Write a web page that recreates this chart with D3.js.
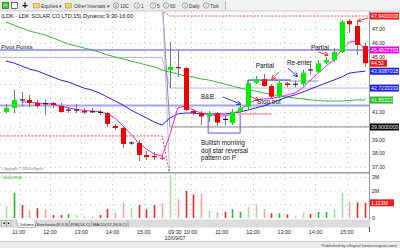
<!DOCTYPE html>
<meta charset="utf-8">
<head>
  <title>LDK 15 min</title>
  <script src="https://d3js.org/d3.v7.min.js"></script>
</head>
<style>
body { margin: 0; background: #fff; }
svg { display: block; font-family: "Liberation Sans", Arial, sans-serif; }
</style>
<body>
<svg></svg>
<script>

// bar times, 15 min bars, two sessions
let day1Times = ["10:45","11:00","11:15","11:30","11:45","12:00","12:15","12:30","12:45","13:00","13:15","13:30","13:45","14:00","14:15","14:30","14:45","15:00","15:15","15:30","15:45"];
let day2Times = ["09:30","09:45","10:00","10:15","10:30","10:45","11:00","11:15","11:30","11:45","12:00","12:15","12:30","12:45","13:00","13:15","13:30","13:45","14:00","14:15","14:30","14:45","15:00","15:15","15:30","15:45"];
let times = day1Times.map(t => "10/08/07 " + t).concat(day2Times.map(t => "10/09/07 " + t));

let tickTimes = ["10/08/07 11:00","10/08/07 12:00","10/08/07 13:00","10/08/07 14:00","10/08/07 15:00",
                 "10/09/07 09:30","10/09/07 10:00","10/09/07 11:00","10/09/07 12:00","10/09/07 13:00","10/09/07 14:00","10/09/07 15:00"];
let priceTicks = [37, 38, 39, 40, 41, 42, 43, 44, 45, 46, 47];
let volTicks = [0, 1, 2, 3];

// OHLC
let openP  = [40.99,41.28,41.88,41.86,41.64,41.57,41.64,41.42,41.13,41.12,41.06,41.00,40.95,40.91,39.97,39.83,38.74,38.74,37.87,37.80,37.68,
              44.03,44.25,44.17,41.06,40.91,40.66,40.91,40.44,40.17,41.01,41.37,43.11,43.36,42.87,42.09,43.06,42.99,43.01,44.02,43.91,44.56,44.75,45.33,47.58,47.22,45.77];
let highP  = [41.57,42.58,42.43,42.22,41.86,41.86,41.71,41.64,41.35,41.57,41.28,41.28,41.13,40.99,40.12,39.90,38.88,38.96,38.16,38.09,37.80,
              46.06,45.48,44.25,41.20,41.06,41.06,40.99,40.77,41.20,41.42,43.18,43.60,43.74,43.01,43.23,43.16,43.25,44.03,44.46,44.75,44.97,45.62,47.65,47.72,47.53,45.99];
let lowP   = [40.91,40.91,41.35,41.35,41.28,40.77,41.28,40.95,40.91,40.91,40.84,40.91,40.77,39.90,39.68,38.38,38.60,37.43,37.51,37.51,37.51,
              42.72,43.52,41.06,40.77,40.04,40.26,39.97,40.04,40.04,40.91,41.20,43.01,42.80,42.00,42.00,42.80,42.78,42.87,43.67,43.81,44.46,44.61,45.26,46.71,45.12,44.27];
let closeP = [41.28,41.86,41.86,41.64,41.42,41.58,41.49,40.99,41.12,41.13,40.95,41.00,40.96,40.12,39.83,38.67,38.74,37.87,37.72,37.70,37.62,
              44.25,44.15,41.13,40.90,40.66,40.88,40.22,40.45,41.01,41.30,43.06,43.36,42.87,42.09,43.11,42.94,43.00,43.83,44.03,44.51,44.75,45.33,47.53,47.34,45.84,44.52];

// moving averages
let maFast = [null,null,41.71,41.71,41.64,41.60,41.57,41.42,41.28,41.17,41.10,41.06,41.02,40.84,40.55,39.97,39.39,38.74,38.30,37.94,37.80,
              39.32,41.28,41.42,41.13,40.91,40.84,40.70,40.70,40.84,41.13,41.57,41.86,41.93,41.96,42.07,42.22,42.36,42.72,43.30,43.81,44.32,44.75,45.48,46.06,46.13,45.50];
let maMid  = [44.68,44.54,44.32,44.10,43.96,43.74,43.52,43.30,43.16,42.94,42.72,42.58,42.36,42.07,41.78,41.49,41.13,40.84,40.55,40.26,40.04,
              40.55,40.84,40.91,40.91,40.84,40.84,40.84,40.84,40.91,40.99,41.13,41.28,41.42,41.64,41.86,42.07,42.22,42.43,42.65,42.87,43.09,43.30,43.52,43.81,43.88,43.94];
let maSlow = [47.51,47.29,47.07,46.86,46.71,46.57,46.35,46.13,45.91,45.77,45.62,45.48,45.33,45.12,44.97,44.83,44.68,44.54,44.39,44.25,44.03,
              43.88,43.74,43.59,43.52,43.38,43.30,43.16,43.01,42.87,42.72,42.58,42.51,42.36,42.29,42.14,42.07,42.00,41.93,41.86,41.82,41.78,41.78,41.78,41.82,41.86,41.85];

// volume in millions, colour code per bar
let volume = [0.88,1.85,0.95,0.59,0.71,0.64,0.22,0.22,0.29,0.22,0.10,0.10,0.22,0.66,0.39,1.12,0.71,0.95,0.64,0.95,1.08,
              3.15,1.37,1.98,1.73,1.81,0.51,0.44,0.46,0.64,0.46,0.83,1.02,0.64,0.34,0.34,0.27,0.17,0.39,0.29,0.44,0.44,0.66,1.85,1.19,1.15,1.113];
let volKind = ["LG","G","R","P","R","P","R","R","G","LG","P","P","R","R","P","P","LG","R","R","R","P",
               "LG","P","R","R","P","LG","P","R","G","G","LG","LG","P","R","G","R","LG","LG","R","G","G","LG","LG","P","R","R"];

// prior day high / low lines and pivot levels, [day1, day2]
let dayHigh = [48.34, 47.94];
let dayLow = [39.25, 36.40];
let pivots = [
  {lv: [45.48, 45.48], color: "#a3a3f0", w: 2},
  {lv: [41.46, 41.46], color: "#a3a3f0", w: 2},
  {lv: [44.93, 42.72], color: "#b8b8ee", w: 1},
  {lv: [49.30, 39.90], color: "#8a8a8a", w: 1},
  {lv: [49.60, 36.20], color: "#b8b8ee", w: 1}
];

// right side value flags
let flags = [
  {v: 47.94, text: "47.9400000", color: "#ee1c1c", w: 29},
  {v: 45.48, text: "45.4827703", color: "#ee00ee", w: 29},
  {v: 44.52, text: "44.52", color: "#ee1c1c", w: 17},
  {v: 43.94, text: "43.9387018", color: "#1c1ce8", w: 29},
  {v: 42.72, text: "42.7233333", color: "#1c1ce8", w: 29},
  {v: 41.85, text: "41.85322", color: "#22bb22", w: 23},
  {v: 39.90, text: "39.9000000", color: "#000", w: 29}
];

// chart notes, anchored by bar index and price
let notes = [
  {t: "B&B", i: 25, p: 41.96},
  {t: "Partial", i: 32, p: 44.17},
  {t: "Re-enter", i: 36, p: 44.39},
  {t: "Stop out", i: 32.15, p: 41.57},
  {t: "Partial", i: 39.06, p: 45.48},
  {t: "Bullish morning", i: 25, p: 38.56},
  {t: "doji star reversal", i: 25, p: 38.02},
  {t: "pattern on P", i: 25, p: 37.48}
];
let arrows = [
  {from: [27.8, 42.07], to: [30, 41.57], color: "#2b2bdd"},
  {from: [36.1, 44.17], to: [37.3, 43.59], color: "#2b2bdd"},
  {from: [35, 43.88], to: [34.1, 43.38], color: "#ee2222"},
  {from: [31.2, 42.14], to: [32.3, 41.86], color: "#ee2222"},
  {from: [40, 45.33], to: [41.2, 45.12], color: "#ee2222"},
  {from: [46.4, 47.80], to: [45.1, 47.58], color: "#ee2222"}
];

let svg = d3.select("svg").attr("width", 400).attr("height", 248);

let x = d3.scaleBand().domain(times).range([2, 369]);
let cx = t => x(t) + x.bandwidth() / 2;
let xi = d3.scaleLinear().domain([0, times.length - 1]).range([cx(times[0]), cx(times[times.length - 1])]);
let y = d3.scaleLinear().domain([37, 47]).range([167, 29]);
let yv = d3.scaleLinear().domain([0, 3]).range([218, 177]);

svg.append("rect").attr("width", 400).attr("height", 248).attr("fill", "#fff");

let defs = svg.append("defs");
defs.append("clipPath").attr("id", "pricePane")
  .append("rect").attr("x", 0).attr("y", 11.5).attr("width", 369).attr("height", 160.5);
["#2b2bdd", "#ee2222"].forEach((c, k) => {
  defs.append("marker").attr("id", "head" + k)
    .attr("viewBox", "0 0 10 10").attr("refX", 8).attr("refY", 5)
    .attr("markerWidth", 5).attr("markerHeight", 5).attr("orient", "auto")
    .append("path").attr("d", "M0,0L10,5L0,10").attr("fill", "none").attr("stroke", c).attr("stroke-width", 2);
});

// ---- toolbar
let tb = svg.append("g");
tb.append("rect").attr("width", 400).attr("height", 11).attr("fill", "#f3f3f3");
tb.append("rect").attr("width", 225).attr("height", 11).attr("fill", "#ececec");
tb.append("line").attr("x1", 225.5).attr("x2", 225.5).attr("y1", 1).attr("y2", 10).attr("stroke", "#b5b5b5");
tb.append("rect").attr("x", 2.5).attr("y", 2.5).attr("width", 6).attr("height", 6).attr("fill", "#4c4").attr("stroke", "#2a5a2a").attr("stroke-width", 0.7);
tb.append("rect").attr("x", 3.5).attr("y", 4.5).attr("width", 4).attr("height", 1).attr("fill", "#ee3");
tb.append("rect").attr("x", 11.5).attr("y", 2.5).attr("width", 6).attr("height", 6).attr("fill", "#fff").attr("stroke", "#335").attr("stroke-width", 0.7);
tb.append("text").attr("x", 22).attr("y", 9.3).attr("font-size", 10).attr("font-weight", "bold").text("+");
[33, 65].forEach(fx => {
  tb.append("rect").attr("x", fx + 0.5).attr("y", 3.5).attr("width", 6).attr("height", 4.5).attr("fill", "#f2d46e").attr("stroke", "#b8952e").attr("stroke-width", 0.6);
});
let tbText = [[41, "Equities"], [59, "\u25BE"], [74, "Other Intervals"], [107, "\u25BE"], [120, "10C"], [141, "1"], [157, "5"], [170, "60"], [189, "Daily"], [210, "Tick"]];
tbText.forEach(d => tb.append("text").attr("x", d[0]).attr("y", 7.6).attr("font-size", 4.8).attr("fill", "#333").text(d[1]));
[[116, "D"], [137, "I"], [153, "I"], [166, "I"], [185, "I"], [206, "I"]].forEach(d => {
  tb.append("circle").attr("cx", d[0]).attr("cy", 5.5).attr("r", 2.7).attr("fill", "#fafafa").attr("stroke", "#666").attr("stroke-width", 0.6);
  tb.append("text").attr("x", d[0]).attr("y", 6.9).attr("text-anchor", "middle").attr("font-size", 3.6).attr("fill", "#333").text(d[1]);
});
tb.append("line").attr("x1", 0).attr("x2", 400).attr("y1", 11).attr("y2", 11).attr("stroke", "#c9c9c9");

// ---- price pane
let pane = svg.append("g").attr("clip-path", "url(#pricePane)");

// dotted grid
let gx = tickTimes.map(t => cx(t) + 5);
pane.selectAll(".gy").data(priceTicks).join("line")
  .attr("x1", 0).attr("x2", 369).attr("y1", d => y(d) + 0.5).attr("y2", d => y(d) + 0.5)
  .attr("stroke", "#c4c4c4").attr("stroke-dasharray", "1,4");
pane.selectAll(".gx").data(gx).join("line")
  .attr("x1", d => Math.round(d) + 0.5).attr("x2", d => Math.round(d) + 0.5).attr("y1", 12).attr("y2", 172)
  .attr("stroke", "#c4c4c4").attr("stroke-dasharray", "1,4");

// day level lines: day 1 flat, jump at the session break, day 2 flat
let levelLine = d3.line().x(d => xi(d[0])).y(d => y(d[1]));
let levelPts = lv => [[-0.76, lv[0]], [20, lv[0]], [21, lv[1]], [46.5, lv[1]]];

pivots.forEach(pv => {
  pane.append("path").attr("d", levelLine(levelPts(pv.lv)))
    .attr("fill", "none").attr("stroke", pv.color).attr("stroke-width", pv.w);
});
[dayHigh, dayLow].forEach(lv => {
  pane.append("path").attr("d", levelLine(levelPts(lv)))
    .attr("fill", "none").attr("stroke", "#f04848").attr("stroke-width", 1).attr("stroke-dasharray", "2,1.5");
});

// trade markup lines
let markup = [
  {pts: [[31, 41.35], [31, 43.30], [36.5, 43.30]], color: "#1c1cd0", w: 1},
  {pts: [[36.3, 43.23], [40, 43.23]], color: "#aab4f0", w: 1.5},
  {pts: [[29.6, 40.84], [34, 40.84]], color: "#f07070", w: 1},
  {pts: [[25.9, 40.70], [25.9, 39.46], [30, 39.46], [30, 40.77]], color: "#5a5ae8", w: 1}
];
markup.forEach(m => {
  pane.append("path").attr("d", levelLine(m.pts))
    .attr("fill", "none").attr("stroke", m.color).attr("stroke-width", m.w);
});

// moving averages
let maLine = d3.line().defined(d => d != null).x((d, i) => xi(i)).y(d => y(d));
[[maSlow, "#3cb43c"], [maMid, "#2424e0"], [maFast, "#f020f0"]].forEach(m => {
  pane.append("path").attr("d", maLine(m[0])).attr("fill", "none").attr("stroke", m[1]).attr("stroke-width", 1);
});

// candles
let isDoji = i => Math.abs(closeP[i] - openP[i]) < 0.03;
let bars = pane.selectAll(".candle").data(times).join("g").attr("class", "candle");
bars.append("line")
  .attr("x1", d => Math.round(cx(d)) + 0.5).attr("x2", d => Math.round(cx(d)) + 0.5)
  .attr("y1", (d, i) => y(highP[i])).attr("y2", (d, i) => y(lowP[i]))
  .attr("stroke", "#777");
bars.append("rect")
  .attr("x", d => Math.round(cx(d)) - 2)
  .attr("width", 5)
  .attr("y", (d, i) => isDoji(i) ? y(closeP[i]) - 0.5 : y(Math.max(openP[i], closeP[i])))
  .attr("height", (d, i) => isDoji(i) ? 1 : Math.max(1, y(Math.min(openP[i], closeP[i])) - y(Math.max(openP[i], closeP[i]))))
  .attr("fill", (d, i) => isDoji(i) ? "#000" : (closeP[i] > openP[i] ? "#00f000" : "#f00000"));

// notes and arrows
pane.selectAll(".note").data(notes).join("text")
  .attr("x", d => xi(d.i)).attr("y", d => y(d.p))
  .attr("font-size", 6.4).attr("fill", "#111").text(d => d.t);
arrows.forEach(a => {
  pane.append("line")
    .attr("x1", xi(a.from[0])).attr("y1", y(a.from[1])).attr("x2", xi(a.to[0])).attr("y2", y(a.to[1]))
    .attr("stroke", a.color).attr("stroke-width", 0.9)
    .attr("marker-end", "url(#head" + (a.color == "#2b2bdd" ? 0 : 1) + ")");
});

svg.append("text").attr("x", 1).attr("y", 17.5).attr("font-size", 5.6).attr("fill", "#111")
  .text("(LDK - LDK SOLAR CO LTD,15) Dynamic,9:30-16:00");
svg.append("text").attr("x", 1).attr("y", 48.5).attr("font-size", 6).attr("fill", "#111").text("Pivot Points");
svg.append("text").attr("x", 2).attr("y", 170).attr("font-size", 3.6).attr("fill", "#777").text("Copyright \u00A9 2006 eSignal");

// pane separator and right edge
svg.append("rect").attr("x", 0).attr("y", 172).attr("width", 370).attr("height", 1.5).attr("fill", "#9a9a9a");
svg.append("line").attr("x1", 369.5).attr("x2", 369.5).attr("y1", 11).attr("y2", 228).attr("stroke", "#9a9a9a");

// price axis, labels under a value flag are left out as in the original
let shownTicks = priceTicks.filter(p => !flags.some(f => Math.abs(y(f.v) - y(p)) < 4.5));
let pAxis = svg.append("g").attr("transform", "translate(369,0)")
  .call(d3.axisRight(y).tickValues(shownTicks).tickFormat(d3.format(".2f")).tickSize(0).tickPadding(3));
pAxis.select(".domain").remove();
pAxis.selectAll("text").attr("font-size", 5.2).attr("fill", "#222").attr("font-family", "Liberation Sans");

let fl = svg.selectAll(".flag").data(flags).join("g").attr("class", "flag");
fl.append("rect").attr("x", 370).attr("y", d => y(d.v) - 3.5).attr("width", d => d.w).attr("height", 7).attr("fill", d => d.color);
fl.append("text").attr("x", 371).attr("y", d => y(d.v) + 1.9).attr("font-size", 5.2).attr("fill", "#fff").text(d => d.text);

// ---- volume pane
svg.selectAll(".vg").data(volTicks.slice(1)).join("line")
  .attr("x1", 0).attr("x2", 369).attr("y1", d => yv(d) + 0.5).attr("y2", d => yv(d) + 0.5)
  .attr("stroke", "#c4c4c4").attr("stroke-dasharray", "1,4");
svg.selectAll(".vgx").data(gx).join("line")
  .attr("x1", d => Math.round(d) + 0.5).attr("x2", d => Math.round(d) + 0.5).attr("y1", 174).attr("y2", 219)
  .attr("stroke", "#c4c4c4").attr("stroke-dasharray", "1,4");

let volFill = {G: "#2fb52f", LG: "#a9dba9", R: "#e62a2a", P: "#f6a3a3"};
svg.selectAll(".vol").data(times).join("rect").attr("class", "vol")
  .attr("x", d => Math.round(cx(d)) - 0.3)
  .attr("width", 1.6)
  .attr("y", (d, i) => yv(volume[i]))
  .attr("height", (d, i) => yv(0) - yv(volume[i]))
  .attr("fill", (d, i) => volFill[volKind[i]]);

svg.append("text").attr("x", 2).attr("y", 179).attr("font-size", 6).attr("fill", "#3cb43c").text("Volume");

let lastVol = volume[volume.length - 1];
let vTicksShown = volTicks.filter(v => Math.abs(yv(v) - yv(lastVol)) > 4.5);
let vAxis = svg.append("g").attr("transform", "translate(369,0)")
  .call(d3.axisRight(yv).tickValues(vTicksShown).tickFormat(d => d ? d + "M" : "0").tickSize(0).tickPadding(3));
vAxis.select(".domain").remove();
vAxis.selectAll("text").attr("font-size", 5.2).attr("fill", "#222").attr("font-family", "Liberation Sans");
svg.append("rect").attr("x", 370).attr("y", yv(lastVol) - 3.5).attr("width", 24).attr("height", 7).attr("fill", "#ee1c1c");
svg.append("text").attr("x", 371).attr("y", yv(lastVol) + 1.9).attr("font-size", 5.2).attr("fill", "#fff").text(lastVol.toFixed(3) + "M");

// ---- study tabs
let tabs = svg.append("g");
tabs.append("rect").attr("x", 0).attr("y", 219.5).attr("width", 370).attr("height", 8).attr("fill", "#dcdcdc");
tabs.append("rect").attr("x", 1.5).attr("y", 220.5).attr("width", 4.5).attr("height", 5.5).attr("fill", "#eee").attr("stroke", "#888").attr("stroke-width", 0.5);
tabs.append("rect").attr("x", 6.5).attr("y", 220.5).attr("width", 4.5).attr("height", 5.5).attr("fill", "#eee").attr("stroke", "#888").attr("stroke-width", 0.5);
tabs.append("path").attr("d", "M2.8,223.2L4.8,222V224.4Z M9.8,223.2L7.8,222V224.4Z").attr("fill", "#000");
tabs.append("path").attr("d", "M16,219.5L18.5,227.5H34.5L37,219.5").attr("fill", "#fff").attr("stroke", "#777").attr("stroke-width", 0.5);
let tabNames = ["Volume", "Stochastic(8,3,3)", "RSI(14,C)", "MACD(12,26,9,C)"];
let tabX = 19.5;
tabNames.forEach((name, k) => {
  let t = tabs.append("text").attr("x", tabX).attr("y", 225.6).attr("font-size", 4.3).attr("fill", "#222").text(name);
  tabX += t.node().getComputedTextLength() + 2.5;
  tabs.append("line").attr("x1", tabX - 1.8).attr("x2", tabX - 0.6).attr("y1", 220).attr("y2", 227)
    .attr("stroke", "#777").attr("stroke-width", 0.5);
});

// ---- time axis
let tAxis = svg.append("g").attr("transform", "translate(0,227)")
  .call(d3.axisBottom(x).tickValues(tickTimes).tickFormat(d => d.slice(9)).tickSize(0).tickPadding(3));
tAxis.select(".domain").remove();
tAxis.selectAll("text").attr("dx", 5).attr("font-size", 5.4).attr("fill", "#222").attr("font-family", "Liberation Sans");
svg.append("text").attr("x", cx("10/09/07 09:30") + 5).attr("y", 240).attr("text-anchor", "middle")
  .attr("font-size", 5.4).attr("fill", "#222").text("10/09/07");
svg.append("line").attr("x1", 369.5).attr("x2", 369.5).attr("y1", 227).attr("y2", 232).attr("stroke", "#444");

// ---- footer
svg.append("rect").attr("x", 0).attr("y", 241.5).attr("width", 400).attr("height", 6.5).attr("fill", "#ececec");
svg.append("line").attr("x1", 0).attr("x2", 400).attr("y1", 241.5).attr("y2", 241.5).attr("stroke", "#c8c8c8");
svg.append("text").attr("x", 397).attr("y", 246.6).attr("text-anchor", "end").attr("font-size", 4.2).attr("fill", "#444")
  .text("Published by eSignal (www.esignal.com)");

</script>
</body>
